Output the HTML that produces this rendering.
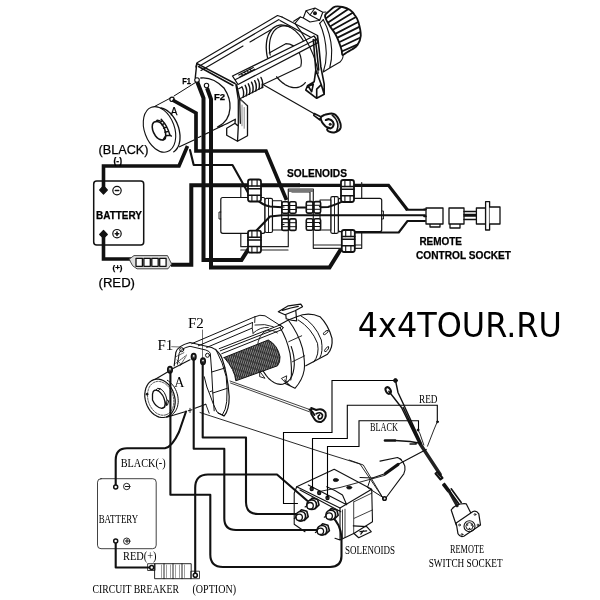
<!DOCTYPE html>
<html><head><meta charset="utf-8"><title>4x4TOUR.RU winch wiring</title>
<style>
html,body{margin:0;padding:0;background:#fff;}
svg{display:block;will-change:transform}
.sa{font-family:"Liberation Sans",sans-serif;fill:#000;stroke:#000;stroke-width:0.25}
.se{font-family:"Liberation Serif",serif;fill:#000}
.t{fill:none;stroke:#111;stroke-linejoin:round;stroke-linecap:round}
</style></head><body>
<svg width="600" height="600" viewBox="0 0 600 600">
<rect width="600" height="600" fill="#fff"/>
<!-- TITLE -->
<text x="357.8" y="337" font-family="DejaVu Sans, Liberation Sans, sans-serif" font-size="34" textLength="204" lengthAdjust="spacingAndGlyphs" fill="#000">4x4TOUR.RU</text>

<!-- ================= TOP DIAGRAM ================= -->
<g id="top">
<g class="t" stroke-width="1">
<ellipse cx="159.5" cy="129.4" rx="23.6" ry="15" transform="rotate(70 159.5 129.4)" stroke-width="1.1"/>
<path d="M 161.0 108.0 L 162.8 108.4 L 164.6 109.2 L 166.4 110.1 L 168.2 111.4 L 169.9 112.8 L 171.5 114.5 L 173.0 116.4 L 174.4 118.4 L 175.7 120.6 L 176.9 122.9 L 177.8 125.3 L 178.7 127.8 L 179.3 130.3 L 179.7 132.8 L 180.0 135.3 L 180.0 137.8 L 179.9 140.1 L 179.5 142.3 L 179.0 144.4 L 178.3 146.3 L 177.4 148.0 L 176.3 149.5 L 175.1 150.8 L 173.8 151.8" stroke-width="1.30"/>
<path d="M 154.5 106.5 L 170.0 98.3 M 174.0 96.0 L 195.5 82.5"/>
<path d="M 179.5 146.8 L 194.0 140.0 M 198.5 137.5 L 201.0 136.2 M 205.0 134.3 L 208.5 132.6 M 213.0 130.3 L 223.0 125.5" stroke-width="1.17"/>
<path d="M 152.5 124.2 Q 151.3 130.0 155.4 135.8 Q 158.9 140.5 163.0 139.9 Q 166.5 139.3 165.6 133.5 Q 164.8 126.5 160.1 122.4 Q 154.2 120.1 152.5 124.2 Z" stroke-width="1.56"/>
<path d="M 160.1 122.4 L 162.4 120.7 Q 167.1 125.3 170.0 135.2 L 165.6 135.8 M 162.4 120.7 L 161.2 119.3 M 170.0 135.2 L 171.4 136.1 M 163.0 139.9 L 165.6 135.8 M 161.8 124.8 L 164.2 123.6 M 163.6 128.2 L 166.5 127.1 M 165.1 132.3 L 168.2 131.4" stroke-width="1.43"/>
<path d="M 156.0 121.6 L 157.2 120.1 L 160.1 120.9" stroke-width="1.43"/>
<circle cx="172" cy="99.3" r="2.2" stroke-width="1.2" fill="#fff"/>
</g>
<g class="t" stroke-width="1">
<path d="M 197.5 62.5 L 277.5 15.5 L 282.0 17.0 M 199.5 66.0 L 279.0 19.5 M 201.0 70.5 L 243.0 46.0 M 250.0 42.0 L 271.0 29.8" stroke-width="1.17"/>
<path d="M 196.7 63.3 L 235.0 83.5 M 198.5 66.5 L 233.0 85.5 M 197.0 63.0 L 196.0 67.0" stroke-width="1.43"/>
<path d="M 282.0 17.0 L 317.5 35.5 M 280.0 20.5 L 313.0 38.5" stroke-width="1.30"/>
<path d="M 196.7 64.2 L 195.3 77.5" stroke-width="1.43"/>
<path d="M 200.8 78.0 Q 213.3 76.7 224.2 88.3 Q 230.8 98.3 230.0 108.3 Q 229.2 121.7 217.5 127.0" stroke-width="1.30"/>
<path d="M 235.8 84.2 L 238.3 100.0 L 238.3 125.8 M 236.7 85.0 L 239.7 98.7 M 239.7 98.7 L 247.5 105.8 L 247.5 135.8 L 237.5 141.3 L 226.7 135.3 L 226.7 128.3 L 235.0 123.3 L 238.3 126.3 M 237.5 141.3 L 238.3 126.3 M 239.7 98.7 L 240.3 123.3 M 235.0 123.3 L 235.3 119.2 Q 228.3 123.3 219.2 127.0" stroke-width="1.30"/>
<path d="M 240.8 100.0 L 246.7 105.0 M 242.0 105.0 L 242.0 125.8 M 244.2 107.5 L 244.2 128.3" stroke-width="0.78" stroke="#666"/>
<circle cx="197" cy="80" r="2.3" stroke-width="1.1" fill="#fff"/>
<circle cx="206.5" cy="85.5" r="2.2" stroke-width="1.1" fill="#fff"/>
<path d="M 242.0 87.0 Q 244.7 92.0 243.0 97.3" stroke-width="1.43"/>
<path d="M 245.2 85.3 Q 247.8 90.3 246.2 95.7" stroke-width="1.43"/>
<path d="M 248.3 83.8 Q 251.0 88.8 249.3 94.2" stroke-width="1.43"/>
<path d="M 251.5 82.2 Q 254.2 87.2 252.5 92.5" stroke-width="1.43"/>
<path d="M 254.7 80.7 Q 257.3 85.7 255.7 91.0" stroke-width="1.43"/>
<path d="M 257.8 79.0 Q 260.5 84.0 258.8 89.3" stroke-width="1.43"/>
<path d="M 261.0 77.5 Q 263.7 82.5 262.0 87.8" stroke-width="1.43"/>
<path d="M 238.7 88.7 L 242.0 87.0 M 239.7 98.7 L 243.0 97.3 L 263.3 87.0" stroke-width="1.17"/>
<path d="M 262.0 85.0 L 300.0 67.0" stroke-width="1.17"/>
<path d="M 269.2 53.0 L 285.8 43.7 Q 294.2 43.7 299.2 52.5 Q 302.5 60.0 300.8 66.3" stroke-width="1.17"/>
<path d="M 267.6 57.9 L 267.0 55.3 L 266.6 52.6 L 266.4 50.1 L 266.2 47.5 L 266.3 45.1 L 266.5 42.6 L 266.8 40.3 L 267.3 38.1 L 268.0 36.1 L 268.8 34.1 L 269.7 32.4 L 270.8 30.8 L 271.9 29.3 L 273.2 28.1 L 274.6 27.1 L 276.1 26.2 L 277.7 25.6 L 279.4 25.2 L 281.1 25.0 L 282.9 25.1 L 284.7 25.3 L 286.5 25.8 L 288.3 26.4 L 290.2 27.3" stroke-width="1.30"/>
<path d="M 270.2 55.1 L 269.8 52.9 L 269.6 50.7 L 269.4 48.6 L 269.4 46.4 L 269.5 44.4 L 269.7 42.4 L 270.0 40.4 L 270.4 38.6 L 271.0 36.8 L 271.6 35.2 L 272.4 33.6 L 273.2 32.2 L 274.1 30.9 L 275.1 29.8 L 276.3 28.7 L 277.4 27.9 L 278.7 27.2 L 280.0 26.6 L 281.4 26.2 L 282.8 25.9 L 284.3 25.8 L 285.8 25.9 L 287.3 26.1 L 288.8 26.5" stroke-width="1.17"/>
<path d="M 305.3 82.6 L 304.4 83.6 L 303.5 84.5 L 302.5 85.2 L 301.5 85.9 L 300.4 86.5 L 299.3 86.9 L 298.1 87.3 L 296.9 87.5 L 295.7 87.6 L 294.4 87.6 L 293.1 87.5 L 291.9 87.3 L 290.6 87.0 L 289.2 86.6 L 287.9 86.0 L 286.6 85.4 L 285.3 84.7 L 284.0 83.8 L 282.7 82.9 L 281.4 81.8 L 280.2 80.7 L 279.0 79.5 L 277.8 78.2 L 276.7 76.8" stroke-width="1.30"/>
<path d="M 290.2 27.3 L 290.9 27.8 L 291.7 28.2 L 292.4 28.7 L 293.2 29.2 L 293.9 29.8 L 294.6 30.3 L 295.4 30.9 L 296.1 31.6 L 296.8 32.3 L 297.5 33.0 L 298.1 33.7 L 298.8 34.4 L 299.5 35.2 L 300.1 36.0 L 300.8 36.9 L 301.4 37.7 L 302.0 38.6 L 302.6 39.5 L 303.1 40.4 L 303.7 41.3 L 304.2 42.2 L 304.7 43.2 L 305.2 44.2 L 305.7 45.2" stroke-width="1.17"/>
<path d="M 232.5 76.0 L 314.0 36.0 L 318.5 42.3 L 238.0 84.5 Z" stroke-width="1.30" fill="#fff"/>
<path d="M 235.5 79.5 L 316.0 39.5" stroke-width="1.17"/>
<path d="M 238.7 75.0 L 253.3 67.5 M 240.0 76.7 L 254.7 69.2 M 241.3 73.3 L 242.7 75.3 M 244.2 71.8 L 245.5 73.8 M 247.0 70.3 L 248.3 72.3 M 249.8 68.8 L 251.2 70.8" stroke-width="1.17"/>
<path d="M 317.5 35.8 L 319.2 50.0 L 320.8 66.7 L 324.2 84.2 L 324.2 94.2 L 316.7 98.3 L 305.8 90.0 M 313.3 39.5 L 314.2 50.0 L 315.8 70.0 L 314.2 81.7 L 307.5 85.8 L 305.8 90.0 M 324.2 94.2 L 321.3 84.7 L 315.8 70.0 M 321.3 84.7 L 316.7 89.2 L 316.7 98.3 M 308.3 86.2 L 313.3 84.2 L 311.7 91.7 Z M 315.3 39.5 L 316.7 50.0 L 318.7 70.0" stroke-width="1.62"/>
</g>
<g class="t" stroke-width="1.1">
<path d="M 319.7 23.3 Q 325.8 36.7 326.3 53.3 Q 326.3 63.3 323.3 72.0 M 323.3 19.7 Q 330.8 33.3 331.7 50.0 Q 332.0 60.0 329.7 68.0 M 323.3 72.0 L 329.7 68.0 M 329.7 68.0 L 340.0 62.0 Q 343.7 58.3 343.0 54.3"/>
<path d="M 293.7 21.3 L 300.3 17.0 L 303.3 18.0 M 303.3 18.0 L 306.0 10.7 L 315.0 8.0 L 322.8 12.3 L 319.7 20.3 L 310.0 22.0 Z M 322.8 12.3 L 326.0 12.0 M 306.0 10.7 L 310.0 15.0 L 319.7 20.3 M 310.0 15.0 L 315.0 8.0"/>
<circle cx="315.0" cy="13.3" r="1.4" fill="#111"/>
<path d="M 319.7 23.3 L 323.3 19.7 M 300.3 17.0 L 295.0 23.3 Q 306.7 38.3 313.3 55.0 Q 317.5 66.7 318.3 73.3"/>
<path d="M 325.0 15.9 C 325.1 13.5 328.1 12.3 329.8 10.7 C 331.4 9.2 332.9 7.3 335.0 6.7 C 337.1 6.0 340.1 6.4 342.6 7.0 C 345.1 7.6 348.0 8.7 350.1 10.0 C 352.1 11.4 353.5 13.2 354.8 15.2 C 356.2 17.1 357.3 18.3 358.3 21.7 C 359.3 25.1 360.9 31.9 360.8 35.8 C 360.6 39.7 359.0 42.7 357.5 45.0 C 356.0 47.3 353.7 48.3 351.9 49.6 C 350.1 50.8 348.2 51.6 346.7 52.5 C 345.1 53.4 343.3 55.4 342.5 55.0 C 341.6 54.5 342.3 52.4 341.6 50.1 C 341.0 47.7 339.6 43.6 338.5 40.8 C 337.4 38.1 336.6 36.0 335.0 33.4 C 333.4 30.7 330.8 28.0 329.2 25.1 C 327.5 22.2 324.9 18.3 325.0 15.9 Z" stroke-width="1.82"/>
<clipPath id="kclip"><path d="M 325.0 15.9 C 325.1 13.5 328.1 12.3 329.8 10.7 C 331.4 9.2 332.9 7.3 335.0 6.7 C 337.1 6.0 340.1 6.4 342.6 7.0 C 345.1 7.6 348.0 8.7 350.1 10.0 C 352.1 11.4 353.5 13.2 354.8 15.2 C 356.2 17.1 357.3 18.3 358.3 21.7 C 359.3 25.1 360.9 31.9 360.8 35.8 C 360.6 39.7 359.0 42.7 357.5 45.0 C 356.0 47.3 353.7 48.3 351.9 49.6 C 350.1 50.8 348.2 51.6 346.7 52.5 C 345.1 53.4 343.3 55.4 342.5 55.0 C 341.6 54.5 342.3 52.4 341.6 50.1 C 341.0 47.7 339.6 43.6 338.5 40.8 C 337.4 38.1 336.6 36.0 335.0 33.4 C 333.4 30.7 330.8 28.0 329.2 25.1 C 327.5 22.2 324.9 18.3 325.0 15.9 Z"/></clipPath>
<g clip-path="url(#kclip)">
<path d="M 325.4 18.7 L 342.0 6.2" stroke-width="1.76"/>
<path d="M 327.8 22.8 L 348.4 8.9" stroke-width="1.76"/>
<path d="M 330.1 26.6 L 352.7 12.7" stroke-width="1.76"/>
<path d="M 332.4 30.1 L 356.0 17.0" stroke-width="1.76"/>
<path d="M 334.8 34.1 L 358.6 21.7" stroke-width="1.76"/>
<path d="M 337.1 37.9 L 360.3 26.4" stroke-width="1.76"/>
<path d="M 339.1 42.2 L 361.2 31.6" stroke-width="1.76"/>
<path d="M 340.8 46.7 L 361.0 37.2" stroke-width="1.76"/>
<path d="M 342.2 51.3 L 358.9 43.9" stroke-width="1.76"/>
</g>
<path d="M 262.0 84.0 L 315.0 114.2" stroke-width="1.17"/>
<path d="M 320.8 117.5 C 321.2 116.4 322.9 115.6 324.2 115.0 C 325.4 114.4 326.8 114.2 328.3 114.0 C 329.9 113.8 331.8 113.2 333.3 113.8 C 334.9 114.3 336.3 115.5 337.5 117.1 C 338.7 118.7 339.9 121.6 340.4 123.3 C 340.9 125.1 340.9 126.3 340.7 127.5 C 340.4 128.7 339.8 129.6 338.8 130.4 C 337.7 131.2 335.8 132.3 334.2 132.5 C 332.6 132.7 330.4 132.2 329.2 131.7 C 328.0 131.2 327.3 130.2 327.1 129.6 C 326.9 129.0 328.3 128.5 327.9 127.9 C 327.6 127.3 326.0 126.9 325.0 125.8 C 324.0 124.8 322.5 123.1 321.8 121.7 C 321.1 120.3 320.4 118.6 320.8 117.5 Z" stroke-width="1.95" fill="#fff"/>
<path d="M 332.1 115.0 C 332.8 115.8 335.3 117.8 336.2 119.6 C 337.2 121.4 337.9 123.9 337.9 125.8 C 338.0 127.7 336.9 130.1 336.7 131.0" stroke-width="1.56"/>
<path d="M 325.8 120.0 C 326.4 119.9 328.0 118.9 329.2 119.2 C 330.4 119.4 332.2 120.6 332.9 121.7 C 333.6 122.8 333.7 124.7 333.3 125.8 C 333.0 126.9 331.7 128.1 330.8 128.3 C 329.9 128.6 328.4 127.6 327.9 127.5" stroke-width="2.08"/>
<circle cx="330.2" cy="124.3" r="1.5" fill="#222" stroke="none"/>
<path d="M 314.2 113.5 L 320.8 116.8 L 320.0 120.0 L 313.8 115.4 Z" stroke-width="1.56" fill="#fff"/>
</g>
<!-- TOP-WIRES -->
<g class="t" stroke-width="4" style="stroke-linejoin:miter;stroke-linecap:butt">
<path d="M172.5,100 L196,113 V151 H266 L286.5,200" stroke-width="3.7"/>
<path d="M197.3,82 L203.5,98 V260 H241.5 L248.5,249"/>
<path d="M207,88 L211,99 V267.5 H329.5 L341,249"/>
<path d="M171,264.8 H191.3 V185.3 H300"/><path d="M298,185.3 H388.5 L407.5,210" stroke-width="3.2"/>
<path d="M103.5,190 V166 H179 L187.5,146" stroke-width="3.6"/>
<path d="M103.5,234 V259 H131" stroke-width="3.6"/>
</g>
<g class="t" stroke-width="1">
<path d="M 240.8 185.0 V 197.5 M 240.8 233.3 V 246.7 H 288.3 V 189.0 M 288.3 189.0 H 313.3 V 245.0 H 361.7 M 313.3 245.0 V 248.3 H 361.7 M 361.7 182.5 V 248.3 M 240.8 250.0 H 288.0 M 292.0 192.0 H 310.0 V 201.0" stroke-width="1.20" stroke="#222"/>
<rect x="289" y="189" width="24" height="3" fill="#777" stroke="none"/>
<rect x="220.8" y="197.5" width="44.2" height="35.8" rx="2" fill="#fff" stroke-width="1.2"/>
<rect x="265" y="198.3" width="7.5" height="34.2" rx="1.5" fill="#fff" stroke-width="1.2"/>
<rect x="272.5" y="200.8" width="9.2" height="29.2" fill="#fff" stroke-width="1.1"/>
<path d="M 220.8 212.0 H 219.0 V 219.0 H 220.8 M 268.5 199.0 V 232.0" stroke-width="0.90"/>
<rect x="338.3" y="198.3" width="43.4" height="33.4" rx="2" fill="#fff" stroke-width="1.2"/>
<rect x="330.8" y="196.7" width="7.5" height="36.6" rx="1.5" fill="#fff" stroke-width="1.2"/>
<rect x="320" y="200" width="10.8" height="30" fill="#fff" stroke-width="1.1"/>
<path d="M 381.7 211.0 H 383.5 V 219.0 H 381.7 M 334.5 197.5 V 232.5" stroke-width="0.90"/>
</g>
<g class="t" stroke-width="2.1">
<path d="M 190.0 150.0 L 193.7 165.0 H 232.5 L 251.0 198.0"/>
<path d="M 256.7 199.0 Q 262.0 205.0 270.0 206.5 L 286.0 207.5 H 309.0 L 328.0 207.0 Q 340.0 203.5 346.7 199.0"/>
<path d="M 255.0 232.0 L 270.0 216.5 L 282.0 215.3 H 425.0"/>
<path d="M 350.0 232.5 H 398.7 L 407.5 221.0 H 425.0"/>
<path d="M 406.5 209.8 H 425.0"/>
</g>
<g class="t">
<rect x="248.0" y="179.5" width="13.0" height="22.0" rx="2.2" fill="#fff" stroke-width="1.8"/>
<path d="M248.0,186.1 H261.0 M248.0,188.7 H261.0 M248.0,195.3 H261.0" stroke-width="1.5"/>
<path d="M251.9,179.5 V186.1 M257.1,179.5 V186.1 M251.9,195.3 V201.5 M257.1,195.3 V201.5" stroke-width="1.1"/>
<rect x="248.0" y="230.7" width="13.0" height="22.0" rx="2.2" fill="#fff" stroke-width="1.8"/>
<path d="M248.0,237.3 H261.0 M248.0,239.9 H261.0 M248.0,246.5 H261.0" stroke-width="1.5"/>
<path d="M251.9,230.7 V237.3 M257.1,230.7 V237.3 M251.9,246.5 V252.7 M257.1,246.5 V252.7" stroke-width="1.1"/>
<rect x="341.0" y="180.0" width="13.0" height="22.0" rx="2.2" fill="#fff" stroke-width="1.8"/>
<path d="M341.0,186.6 H354.0 M341.0,189.2 H354.0 M341.0,195.8 H354.0" stroke-width="1.5"/>
<path d="M344.9,180.0 V186.6 M350.1,180.0 V186.6 M344.9,195.8 V202.0 M350.1,195.8 V202.0" stroke-width="1.1"/>
<rect x="341.8" y="230.0" width="13.0" height="22.0" rx="2.2" fill="#fff" stroke-width="1.8"/>
<path d="M341.8,236.6 H354.8 M341.8,239.2 H354.8 M341.8,245.8 H354.8" stroke-width="1.5"/>
<path d="M345.7,230.0 V236.6 M350.9,230.0 V236.6 M345.7,245.8 V252.0 M350.9,245.8 V252.0" stroke-width="1.1"/>
<rect x="282.0" y="201.8" width="6.6" height="11.5" rx="1.5" fill="#fff" stroke-width="1.6"/>
<path d="M282.0,205.5 H288.6 M282.0,209.5 H288.6" stroke-width="1"/>
<rect x="289.5" y="201.8" width="6.6" height="11.5" rx="1.5" fill="#fff" stroke-width="1.6"/>
<path d="M289.5,205.5 H296.1 M289.5,209.5 H296.1" stroke-width="1"/>
<rect x="282.0" y="218.9" width="6.6" height="11.5" rx="1.5" fill="#fff" stroke-width="1.6"/>
<path d="M282.0,222.7 H288.6 M282.0,226.7 H288.6" stroke-width="1"/>
<rect x="289.5" y="218.9" width="6.6" height="11.5" rx="1.5" fill="#fff" stroke-width="1.6"/>
<path d="M289.5,222.7 H296.1 M289.5,226.7 H296.1" stroke-width="1"/>
<rect x="306.3" y="201.6" width="6.6" height="11.5" rx="1.5" fill="#fff" stroke-width="1.6"/>
<path d="M306.3,205.3 H312.9 M306.3,209.3 H312.9" stroke-width="1"/>
<rect x="314.0" y="201.6" width="6.6" height="11.5" rx="1.5" fill="#fff" stroke-width="1.6"/>
<path d="M314.0,205.3 H320.6 M314.0,209.3 H320.6" stroke-width="1"/>
<rect x="306.3" y="218.8" width="6.6" height="11.5" rx="1.5" fill="#fff" stroke-width="1.6"/>
<path d="M306.3,222.5 H312.9 M306.3,226.5 H312.9" stroke-width="1"/>
<rect x="314.0" y="218.8" width="6.6" height="11.5" rx="1.5" fill="#fff" stroke-width="1.6"/>
<path d="M314.0,222.5 H320.6 M314.0,226.5 H320.6" stroke-width="1"/>
<path d="M 281.7 207.0 H 284.0 M 281.7 224.5 H 284.0 M 319.5 206.7 H 320.0 M 319.5 223.5 H 320.0" stroke-width="1.20"/>
</g>
<g class="t">
<path d="M129.4,259 L134,255.6 H167.5 L171.6,264 L168,268.8 H137 L133,266 Z" fill="#ddd" stroke="#444" stroke-width="1"/>
<rect x="136.0" y="258.3" width="6.4" height="8" fill="#fff" stroke-width="1.3"/>
<rect x="143.9" y="258.3" width="6.4" height="8" fill="#fff" stroke-width="1.3"/>
<rect x="151.8" y="258.3" width="6.4" height="8" fill="#fff" stroke-width="1.3"/>
<rect x="159.7" y="258.3" width="6.4" height="8" fill="#fff" stroke-width="1.3"/>
</g>
<g class="t" stroke-width="1.2">
<path d="M 426.0 208.0 H 443.0 V 224.0 H 440.0 V 227.0 H 430.0 V 224.0 H 426.0 Z M 430.0 224.0 H 440.0" stroke-width="1.30" fill="#fff"/>
<path d="M 449.0 208.0 H 464.0 V 224.0 H 460.0 V 228.0 H 450.0 V 224.0 H 449.0 Z M 450.0 224.0 H 460.0" stroke-width="1.30" fill="#fff"/>
<path d="M 464.0 211.4 H 476.4 M 464.0 214.4 H 476.4 M 464.0 216.0 H 476.4 M 464.0 219.6 H 476.4" stroke-width="1.50"/>
<path d="M 476.4 208.0 H 485.6 V 224.0 H 476.4 Z" stroke-width="1.30" fill="#fff"/>
<path d="M 485.6 201.6 H 489.6 V 230.0 H 485.6 Z" stroke-width="1.30" fill="#fff"/>
<path d="M 489.6 207.0 H 500.0 V 224.0 H 489.6" stroke-width="1.30" fill="#fff"/>
<path d="M 424.0 209.4 H 426.0 M 424.0 216.4 H 426.0" stroke-width="1.60"/>
</g>
<g class="t" stroke-width="0.9">
<circle cx="117" cy="190.6" r="4.2" stroke-width="1.2"/><path d="M115.3,190.6 H118.7" stroke-width="1.5"/>
<circle cx="117" cy="233.7" r="4.2" stroke-width="1.2"/><path d="M115.3,233.7 H118.7 M117,232 V235.4" stroke-width="1.6"/>
</g>
<!-- TOP-BATTERY -->
<rect x="93.7" y="181" width="50" height="64" rx="3" class="t" stroke-width="1.5"/>
<path d="M103.5,186 L107.3,190 L103.5,194 L99.7,190 Z" fill="#111" stroke="#111" stroke-width="1.2" stroke-linejoin="round"/>
<path d="M103.5,230.5 L107.3,234.5 L103.5,238 L99.7,234.5 Z" fill="#111" stroke="#111" stroke-width="1.2" stroke-linejoin="round"/>
<!-- TOP-TEXT -->
<text class="sa" x="98.5" y="154" font-size="12.5" textLength="50" lengthAdjust="spacingAndGlyphs">(BLACK)</text>
<text class="sa" x="98.5" y="287" font-size="12.5" textLength="36.5" lengthAdjust="spacingAndGlyphs">(RED)</text>
<text class="sa" x="96" y="219" font-size="10.5" font-weight="bold" textLength="46" lengthAdjust="spacingAndGlyphs">BATTERY</text>
<text class="sa" x="287" y="177" font-size="10.5" font-weight="bold" textLength="60" lengthAdjust="spacingAndGlyphs">SOLENOIDS</text>
<text class="sa" x="419.4" y="245" font-size="10" font-weight="bold" textLength="42.6" lengthAdjust="spacingAndGlyphs">REMOTE</text>
<text class="sa" x="416" y="259" font-size="10" font-weight="bold" textLength="95" lengthAdjust="spacingAndGlyphs">CONTROL SOCKET</text>
<text class="sa" x="182.3" y="84" font-size="9.5" font-weight="bold" textLength="8.7" lengthAdjust="spacingAndGlyphs">F1</text>
<text class="sa" x="214" y="100" font-size="9.5" font-weight="bold">F2</text>
<text class="sa" x="170.8" y="115" font-size="10">A</text>
<text class="sa" x="113.5" y="164" font-size="8.5" font-weight="bold">(-)</text>
<text class="sa" x="112.5" y="269.5" font-size="8" font-weight="bold">(+)</text>
</g>

<!-- ================= BOTTOM DIAGRAM ================= -->
<g id="bot">
<defs><pattern id="rope" width="2" height="6" patternUnits="userSpaceOnUse" patternTransform="rotate(18)"><rect width="2" height="6" fill="#8a8a8a"/><path d="M0.5,0 V6" stroke="#1a1a1a" stroke-width="0.9"/><path d="M1.5,1 V3" stroke="#444" stroke-width="0.6"/></pattern></defs>
<g class="t" stroke-width="1">
<path d="M 166.1 417.0 L 163.8 417.5 L 161.5 417.5 L 159.1 417.1 L 156.7 416.1 L 154.4 414.8 L 152.3 413.0 L 150.3 410.9 L 148.6 408.4 L 147.2 405.7 L 146.1 402.9 L 145.3 399.9 L 144.8 396.9 L 144.8 393.9 L 145.2 391.0 L 145.8 388.3 L 146.9 385.9 L 148.2 383.7 L 149.9 381.9 L 151.8 380.6 L 153.9 379.6 L 156.2 379.1 L 158.5 379.1 L 160.9 379.6 L 163.3 380.5 L 165.6 381.9 L 167.7 383.7 L 169.7 385.8 L 171.4 388.2 L 172.8 390.9 L 173.9 393.8 L 174.7 396.8 L 175.2 399.8 L 175.2 402.8 L 174.8 405.7 L 174.2 408.4 L 173.1 410.8 L 171.8 412.9 L 170.1 414.7 L 168.2 416.1 L 166.1 417.0 Z" stroke-width="1.20"/>
<path d="M 166.0 414.8 L 164.1 415.2 L 162.0 415.2 L 160.0 414.8 L 157.9 414.0 L 155.9 412.8 L 154.1 411.2 L 152.4 409.3 L 150.9 407.1 L 149.6 404.8 L 148.6 402.2 L 147.9 399.6 L 147.6 397.0 L 147.5 394.3 L 147.8 391.8 L 148.4 389.4 L 149.2 387.3 L 150.4 385.4 L 151.8 383.9 L 153.5 382.7 L 155.3 381.9 L 157.3 381.4 L 159.3 381.4 L 161.4 381.9 L 163.4 382.7 L 165.4 383.9 L 167.3 385.5 L 169.0 387.4 L 170.5 389.5 L 171.7 391.9 L 172.7 394.4 L 173.4 397.1 L 173.8 399.7 L 173.8 402.3 L 173.6 404.9 L 173.0 407.2 L 172.1 409.4 L 170.9 411.2 L 169.5 412.8 L 167.8 414.0 L 166.0 414.8 Z" stroke-width="0.70" stroke-dasharray="2 1.2"/>
<path d="M 167.3 380.3 L 168.7 381.2 L 170.1 382.2 L 171.4 383.5 L 172.6 384.9 L 173.7 386.3 L 174.7 387.9 L 175.6 389.6 L 176.4 391.4 L 177.0 393.2 L 177.5 395.0 L 177.9 396.9 L 178.1 398.8 L 178.2 400.7 L 178.2 402.5 L 177.9 404.3 L 177.6 406.1 L 177.1 407.7 L 176.5 409.2 L 175.7 410.7 L 174.8 412.0 L 173.8 413.2 L 172.7 414.2 L 171.6 415.1 L 170.3 415.7" stroke-width="1.00"/>
<path d="M 155.3 379.3 L 168.0 371.7 M 172.5 368.7 L 190.0 359.7" stroke-width="1.10"/>
<path d="M 166.7 417.3 L 185.0 411.7 M 188.3 410.8 L 192.0 409.7 M 195.0 408.3 L 205.8 404.2" stroke-width="1.10"/>
<path d="M 152.5 394.2 Q 153.3 388.3 158.3 390.8 Q 163.3 394.2 165.0 401.7 Q 165.8 408.3 161.7 408.3 Q 155.8 407.5 152.5 400.0 Z" stroke-width="1.30"/>
<path d="M 158.3 390.8 L 160.0 388.7 Q 165.0 390.8 167.0 400.0 L 166.3 405.8 L 165.0 401.7 M 160.0 388.7 L 157.5 388.3 L 155.8 390.3 M 167.0 400.0 L 168.7 400.8 L 167.5 405.0 M 161.7 408.3 L 165.0 407.0" stroke-width="1.00"/>
<circle cx="147.0" cy="394.2" r="0.9" fill="#111"/>
<ellipse cx="170.0" cy="369.7" rx="2.3" ry="3.3" fill="#444" stroke-width="1.5"/>
<circle cx="170.0" cy="368.9" r="0.8" fill="#fff" stroke="none"/>
<ellipse cx="193.7" cy="356.7" rx="2.3" ry="3.3" fill="#444" stroke-width="1.5"/>
<circle cx="193.7" cy="355.9" r="0.8" fill="#fff" stroke="none"/>
<ellipse cx="203.0" cy="361.3" rx="2.3" ry="3.3" fill="#444" stroke-width="1.5"/>
<circle cx="203.0" cy="360.5" r="0.8" fill="#fff" stroke="none"/>
<path d="M 174.2 365.8 L 175.8 352.5 Q 177.5 345.8 190.0 342.5 L 211.7 347.5 Q 219.2 350.8 222.0 358.3 Q 227.5 373.3 229.2 396.7 Q 229.2 410.0 224.2 415.8 L 218.3 413.3" stroke-width="1.20"/>
<path d="M 177.5 364.2 L 179.2 353.3 Q 180.8 348.3 190.0 346.3 L 205.8 350.0 Q 209.7 351.3 210.3 353.3 L 211.7 372.0 L 212.8 393.0 L 214.2 410.8" stroke-width="1.00"/>
<path d="M 215.8 349.2 Q 223.3 363.3 226.2 376.7 Q 227.7 388.3 226.7 401.7 Q 225.8 410.0 222.5 414.7 M 211.7 372.0 L 225.0 368.0 M 212.8 393.0 L 227.3 388.3" stroke-width="1.00"/>
<circle cx="181.7" cy="349.7" r="2" stroke-width="1"/>
<circle cx="207.5" cy="355.3" r="2" stroke-width="1"/>
<path d="M 175.8 356.7 L 184.2 352.5 M 175.8 363.3 L 186.7 355.0 M 180.0 365.8 L 185.8 356.7 M 177.0 360.0 L 181.7 365.0" stroke-width="0.70" stroke-dasharray="1.5 1"/>
<path d="M 210.0 391.7 L 212.5 390.8 M 205.8 404.2 L 209.2 413.3 M 190.0 408.3 L 190.0 412.5" stroke-width="0.90"/>
<path d="M 171.7 346.7 L 180.8 347.0 M 202.5 330.0 L 202.5 359.2" stroke-width="0.60"/>
</g>
<g class="t" stroke-width="1">
<path d="M 191.7 343.7 L 255.0 316.7 M 198.3 345.8 L 252.5 322.5 M 206.7 347.5 L 251.7 328.3 M 255.0 316.7 Q 260.0 314.2 265.0 315.8 L 283.3 327.5" stroke-width="1.00"/>
<path d="M 219.2 348.7 L 280.0 325.0 M 220.3 350.8 L 280.8 327.2 M 221.7 353.7 L 281.7 329.7 M 280.0 325.0 L 283.3 327.5 L 281.7 329.7" stroke-width="1.00"/>
<path d="M 252.5 322.5 Q 251.7 328.3 253.0 333.3 M 255.0 316.7 L 254.7 322.5" stroke-width="0.90"/>
<path d="M 291.2 346.5 L 292.6 350.9 L 293.6 355.4 L 294.2 360.0 L 294.3 364.4 L 293.9 368.6 L 293.1 372.6 L 291.9 376.0 L 290.2 379.0 L 288.1 381.3 L 285.8 383.1 L 283.1 384.1 L 280.3 384.4 L 277.4 383.9 L 274.4 382.8 L 271.5 380.9 L 268.7 378.5 L 266.1 375.4 L 263.7 371.9 L 261.6 367.9 L 259.9 363.6 L 258.6 359.1 L 257.8 354.6 L 257.4 350.1 L 257.4 345.7" stroke-width="1.10"/>
<path d="M 257.9 355.9 L 257.6 353.7 L 257.4 351.6 L 257.4 349.4 L 257.4 347.4 L 257.6 345.4 L 257.9 343.4 L 258.3 341.6 L 258.9 339.8 L 259.5 338.2 L 260.2 336.7 L 261.0 335.3 L 261.9 334.1 L 262.9 333.1 L 264.0 332.1 L 265.2 331.4 L 266.4 330.9 L 267.6 330.5 L 269.0 330.3 L 270.3 330.3 L 271.7 330.4 L 273.1 330.8 L 274.5 331.3 L 275.9 332.0 L 277.3 332.9" stroke-width="0.90"/>
<path d="M 224.2 357.5 L 268.3 340.0 Q 277.5 345.0 280.0 356.7 Q 280.3 362.5 277.5 365.8 L 235.8 380.8 Q 235.0 370.0 224.2 357.5 Z" stroke-width="1.00" fill="url(#rope)"/>
<path d="M 255.0 325.0 Q 265.0 323.3 273.3 326.7 M 253.0 333.3 Q 260.0 326.7 268.3 327.5 M 260.0 371.7 L 265.0 378.3 L 260.0 376.7 Z" stroke-width="0.90"/>
<path d="M 279.2 325.0 L 288.3 320.0 L 296.7 316.7 M 288.3 320.0 Q 298.3 333.3 302.5 348.3 Q 305.3 361.7 304.2 370.0 Q 302.5 380.0 295.0 388.3 L 284.7 383.3 M 295.0 388.3 Q 290.0 386.7 284.7 380.0 M 280.0 327.5 Q 286.7 338.3 290.0 353.3 Q 292.5 370.0 290.8 380.0" stroke-width="1.10"/>
<path d="M 288.7 341.7 L 301.7 335.8 M 292.5 361.7 L 304.7 355.8 M 281.7 378.3 L 286.7 375.8 L 285.8 382.5 Z" stroke-width="0.90"/>
<path d="M 296.7 316.7 Q 308.3 311.7 320.0 316.7 Q 328.3 325.0 332.0 338.3 Q 333.0 348.3 327.5 354.2 L 305.8 365.8" stroke-width="1.20"/>
<path d="M 298.3 320.0 Q 311.7 328.3 317.5 343.3 Q 319.7 355.0 313.7 362.0 M 300.8 315.8 Q 315.0 323.3 321.3 340.0 Q 323.3 351.7 320.0 357.5" stroke-width="1.00"/>
<ellipse cx="325.8" cy="332.5" rx="3" ry="1.2" transform="rotate(-40 325.8 332.5)" stroke-width="0.9"/>
<ellipse cx="326.7" cy="349.2" rx="3" ry="1.2" transform="rotate(-50 326.7 349.2)" stroke-width="0.9"/>
<path d="M 278.3 311.7 L 288.3 305.8 L 300.8 304.2 L 302.5 306.7 L 295.0 310.8 L 285.0 314.7 Z M 285.8 314.7 L 286.2 318.7 M 295.8 310.8 L 296.7 320.8 M 286.2 318.7 Q 291.7 320.8 296.7 320.8 M 282.5 310.3 L 290.8 308.0 L 298.3 306.3" stroke-width="1.20"/>
<path d="M 230.0 381.0 L 311.0 410.0 M 230.5 383.0 L 310.0 412.0" stroke-width="0.80"/>
<path d="M 200.0 412.5 L 300.0 445.0 L 320.0 451.5 L 360.0 464.0 L 383.0 498.0" stroke-width="0.90"/>
<path d="M 204.2 376.7 Q 206.7 388.3 210.0 395.0 Q 213.3 405.0 217.0 412.0 L 223.7 416.0" stroke-width="1.00"/>
<path d="M 309.5 409.5 L 312.5 412.0 L 314.5 415.0 M 311.2 408.0 L 316.2 410.0 Q 322.5 407.5 325.5 412.5 Q 327.0 418.8 321.2 422.0 Q 316.2 422.5 313.8 418.0 L 311.2 413.8 Z" stroke-width="1.90"/>
<path d="M 316.2 413.8 Q 320.5 411.2 322.5 415.0 Q 322.5 419.5 318.8 418.8 Q 317.0 416.2 319.5 415.0" stroke-width="1.70"/>
</g>
<!-- BOT-WIRES -->
<g class="t" stroke-width="2.1">
<path d="M115.7,487 V460 Q115.7,448.3 127,448.3 H165 Q172,447 179,432 L186,411.5"/>
<path d="M170.4,372 V494.7 H210.3 V554 Q210,567 223,567 H330 Q341.5,567 341.5,556 V538 Q341,524 331,516"/>
<path d="M193.7,359 V448.7 H224.3 V518.5 Q224.3,530 236,530 H320"/>
<path d="M202.7,363 V437.5 H246 V502 Q246,514 258,514 H298"/>
<path d="M195.2,573 V488 Q195.2,474.5 208,474.5 H277 L311,504"/>
<path d="M115.7,541 V567.5 H150"/>
</g>
<g class="t" stroke-width="1.1">
<path d="M 296.7 486.7 L 334.2 469.2 L 371.7 489.2 L 340.0 508.0 Z" stroke-width="1.10" fill="#fff"/>
<path d="M 296.7 486.7 L 294.2 493.3 L 294.2 524.2 L 305.0 531.7 M 340.0 508.0 L 340.0 540.0 M 371.7 489.2 L 372.5 521.7 L 354.2 533.3 L 340.0 540.0 M 340.0 540.0 L 335.0 538.3 M 300.0 490.0 L 340.8 511.7 M 308.3 485.0 L 346.7 504.7 M 346.7 504.7 L 342.5 495.0 Q 335.0 490.0 326.7 486.7" stroke-width="1.10"/>
<path d="M 354.2 501.7 L 372.0 493.0 M 354.2 518.3 L 372.3 510.0 M 353.7 501.7 L 353.7 533.3 M 342.5 510.0 L 342.5 538.3 M 345.0 509.2 L 345.0 537.5" stroke-width="0.80"/>
<path d="M 353.3 525.8 L 366.7 526.7 L 371.2 531.7 L 358.7 537.7 L 353.7 533.3 M 360.0 531.7 L 366.7 530.8 M 360.8 534.2 L 363.3 530.8" stroke-width="1.20"/>
<ellipse cx="311.7" cy="488.7" rx="1.6" ry="1.9" fill="#333" stroke-width="1.2"/>
<ellipse cx="319.2" cy="492.8" rx="1.6" ry="1.9" fill="#333" stroke-width="1.2"/>
<ellipse cx="327.5" cy="497.7" rx="1.6" ry="1.9" fill="#333" stroke-width="1.2"/>
<ellipse cx="335.8" cy="480.0" rx="2.6" ry="1.6" fill="#111" stroke-width="0.8"/>
<ellipse cx="349.2" cy="487.5" rx="2.6" ry="1.6" fill="#111" stroke-width="0.8"/>
<polygon points="319.0,504.9 315.1,508.8 309.7,507.4 308.3,502.0 312.2,498.1 317.6,499.5" fill="#fff" stroke-width="1.6"/>
<circle cx="311.7" cy="504.7" r="4.8" fill="#fff" stroke-width="1.7"/>
<circle cx="310.1" cy="505.7" r="3.2" fill="#fff" stroke-width="1.3"/>
<path d="M306.9,505.7 L305.1,506.9" stroke-width="1.2"/>
<polygon points="308.2,516.6 304.3,520.5 298.9,519.1 297.5,513.7 301.4,509.8 306.8,511.2" fill="#fff" stroke-width="1.6"/>
<circle cx="300.8" cy="516.3" r="4.8" fill="#fff" stroke-width="1.7"/>
<circle cx="299.2" cy="517.3" r="3.2" fill="#fff" stroke-width="1.3"/>
<path d="M296.1,517.3 L294.3,518.5" stroke-width="1.2"/>
<polygon points="338.2,515.2 334.3,519.2 328.9,517.7 327.5,512.4 331.4,508.4 336.8,509.9" fill="#fff" stroke-width="1.6"/>
<circle cx="330.8" cy="515.0" r="4.8" fill="#fff" stroke-width="1.7"/>
<circle cx="329.2" cy="516.0" r="3.2" fill="#fff" stroke-width="1.3"/>
<path d="M326.1,516.0 L324.3,517.2" stroke-width="1.2"/>
<polygon points="329.4,530.6 325.4,534.5 320.1,533.1 318.6,527.7 322.6,523.8 327.9,525.2" fill="#fff" stroke-width="1.6"/>
<circle cx="322.0" cy="530.3" r="4.8" fill="#fff" stroke-width="1.7"/>
<circle cx="320.4" cy="531.3" r="3.2" fill="#fff" stroke-width="1.3"/>
<path d="M317.2,531.3 L315.4,532.5" stroke-width="1.2"/>
</g>
<g class="t" stroke-width="1.1" style="stroke:#000;stroke-linejoin:miter">
<path d="M 297.5 503.5 H 283.5 V 432.5 H 332.0 V 380.5 H 394.0"/>
<path d="M 312.5 487.5 V 438.5 H 347.3 V 405.3 H 437.3 V 421.0"/>
<path d="M 327.5 497.0 V 446.5 H 359.0 V 420.7 H 418.5 V 430.0"/>
</g>
<g class="t" stroke-width="1">
<path d="M 420.2 444.0 L 440.2 474.5" stroke-width="3.40" stroke="#222"/>
<path d="M 388.8 391.2 L 401.5 407.5 L 419.5 444.5 M 395.5 380.5 L 398.0 392.5 L 405.0 407.5 L 421.5 443.5 M 403.2 407.5 L 420.5 444.0" stroke-width="1.40"/>
<ellipse cx="388.2" cy="390.5" rx="2.3" ry="3.5" transform="rotate(-30 388.2 390.5)" stroke-width="2"/>
<circle cx="395.5" cy="380.5" r="1.9" fill="#111"/>
<path d="M 437.5 472.0 L 442.5 478.0 M 435.5 473.5 L 440.5 479.5 M 435.5 473.5 L 437.5 472.0 M 440.5 479.5 L 442.5 478.0" stroke-width="2.00"/>
<path d="M 444.5 483.8 L 449.5 490.5 M 443.0 485.0 L 448.0 491.5 M 443.0 485.0 L 444.5 483.8" stroke-width="2.00"/>
<path d="M 448.8 490.8 L 457.2 505.8" stroke-width="3.00" stroke="#222"/>
<path d="M 437.5 421.2 L 433.8 430.0 L 427.5 446.2 M 418.0 430.0 L 420.0 433.8 L 423.8 445.0" stroke-width="0.90"/>
<circle cx="437.5" cy="421.8" r="0.9" fill="#111"/>
<circle cx="418.0" cy="430.0" r="0.9" fill="#111"/>
<path d="M 385.0 440.5 H 395.0" stroke-width="2.60"/>
<path d="M 395.0 440.5 L 410.0 441.5 L 418.8 443.0 M 410.0 444.0 L 416.2 444.0" stroke-width="1.30"/>
<path d="M 380.0 461.2 L 397.5 457.5 L 401.2 459.5 M 372.5 478.0 L 385.5 473.5 M 398.8 464.0 L 426.2 449.5" stroke-width="1.20"/>
<path d="M 385.5 473.5 L 398.0 464.5" stroke-width="3.20"/>
<path d="M 400.0 458.8 Q 407.5 465.0 403.8 473.8 L 386.2 497.5" stroke-width="1.10"/>
<path d="M 360.0 477.5 L 372.5 478.0 M 370.0 480.0 L 367.5 487.5 L 383.8 498.0" stroke-width="1.00"/>
<circle cx="384.5" cy="498.5" r="1.8" stroke-width="1.5"/>
<path d="M 318.3 491.7 L 340.0 487.5 L 385.0 475.3 M 349.2 460.0 L 363.3 465.0 L 383.0 498.0" stroke-width="0.90"/>
</g>
<g class="t" stroke-width="1.1">
<path d="M 448.8 490.0 L 458.8 503.8 M 451.2 488.8 L 461.2 502.5" stroke-width="1.60"/>
<path d="M 451.2 510.0 Q 456.2 503.0 466.2 503.8 L 471.2 513.8 M 451.2 510.0 L 456.2 525.0" stroke-width="1.20"/>
<path d="M 456.2 523.0 L 473.0 511.5 Q 476.2 510.0 478.8 513.8 L 480.5 525.0 L 463.8 536.2 Q 460.0 537.5 458.0 533.8 Z" stroke-width="1.20" fill="#fff"/>
<circle cx="469.5" cy="526.2" r="5.5" stroke-width="1.1"/>
<circle cx="469.5" cy="526.2" r="3.6" stroke-width="0.9"/>
<circle cx="467.5" cy="525.0" r="0.8" fill="#111" stroke="none"/>
<circle cx="471.5" cy="525.0" r="0.8" fill="#111" stroke="none"/>
<circle cx="469.5" cy="528.5" r="0.8" fill="#111" stroke="none"/>
<circle cx="459.5" cy="525.0" r="0.9" stroke-width="0.8"/>
<circle cx="475.0" cy="514.5" r="0.9" stroke-width="0.8"/>
<circle cx="478.0" cy="525.0" r="0.9" stroke-width="0.8"/>
<circle cx="462.0" cy="534.5" r="0.9" stroke-width="0.8"/>
</g>
<g class="t" stroke-width="0.9">
<path d="M 155.0 563.7 H 191.2 V 578.7 H 155.0 Z M 164.0 563.7 V 578.7 M 173.0 563.7 V 578.7 M 182.0 563.7 V 578.7" stroke-width="0.90"/>
<path d="M 161.5 565.0 V 577.5 M 166.5 565.0 V 577.5 M 170.5 565.0 V 577.5 M 175.5 565.0 V 577.5 M 179.5 565.0 V 577.5 M 184.5 565.0 V 577.5" stroke-width="0.80" stroke="#888"/>
<rect x="148" y="563.7" width="7" height="6.8" stroke-width="0.8"/>
<rect x="191.2" y="571.2" width="8.3" height="7.5" stroke-width="0.8"/>
<circle cx="151.7" cy="567.5" r="2" fill="#fff" stroke-width="1.6"/>
<circle cx="195.3" cy="575.2" r="2" fill="#fff" stroke-width="1.6"/>
<circle cx="126.7" cy="486.5" r="3.2" stroke-width="0.9"/><path d="M125.3,486.5 H128.7" stroke-width="1"/>
<circle cx="126.7" cy="541.2" r="3.2" stroke-width="0.9"/><path d="M125.3,541 H128.7 M127,539.3 V542.7" stroke-width="1"/>
</g>
<!-- BOT-BATTERY -->
<rect x="97.5" y="478.7" width="58.7" height="70" rx="3.5" class="t" stroke-width="0.8"/>
<circle cx="115.7" cy="487" r="2" fill="#fff" stroke="#111" stroke-width="1.5"/>
<circle cx="115.7" cy="541" r="2" fill="#fff" stroke="#111" stroke-width="1.5"/>
<!-- BOT-TEXT -->
<text class="se" x="157.5" y="350" font-size="15">F1</text>
<text class="se" x="188" y="328" font-size="15">F2</text>
<text class="se" x="174.3" y="387.3" font-size="14">A</text>
<text class="se" x="120.7" y="466.7" font-size="13.5" textLength="45" lengthAdjust="spacingAndGlyphs">BLACK(-)</text>
<text class="se" x="98.7" y="523" font-size="13.5" textLength="39.5" lengthAdjust="spacingAndGlyphs">BATTERY</text>
<text class="se" x="123" y="559.7" font-size="13.5" textLength="33.5" lengthAdjust="spacingAndGlyphs">RED(+)</text>
<text class="se" x="92.5" y="593" font-size="13.5" textLength="86.5" lengthAdjust="spacingAndGlyphs">CIRCUIT BREAKER</text>
<text class="se" x="192.5" y="593" font-size="13.5" textLength="43.5" lengthAdjust="spacingAndGlyphs">(OPTION)</text>
<text class="se" x="345" y="554" font-size="13.5" textLength="50" lengthAdjust="spacingAndGlyphs">SOLENOIDS</text>
<text class="se" x="450" y="552.5" font-size="13.5" textLength="34" lengthAdjust="spacingAndGlyphs">REMOTE</text>
<text class="se" x="428.7" y="567" font-size="13.5" textLength="74" lengthAdjust="spacingAndGlyphs">SWITCH SOCKET</text>
<text class="se" x="419" y="403" font-size="13.5" textLength="18.5" lengthAdjust="spacingAndGlyphs">RED</text>
<text class="se" x="370" y="431" font-size="13.5" textLength="28" lengthAdjust="spacingAndGlyphs">BLACK</text>
</g>
</svg>
</body></html>
